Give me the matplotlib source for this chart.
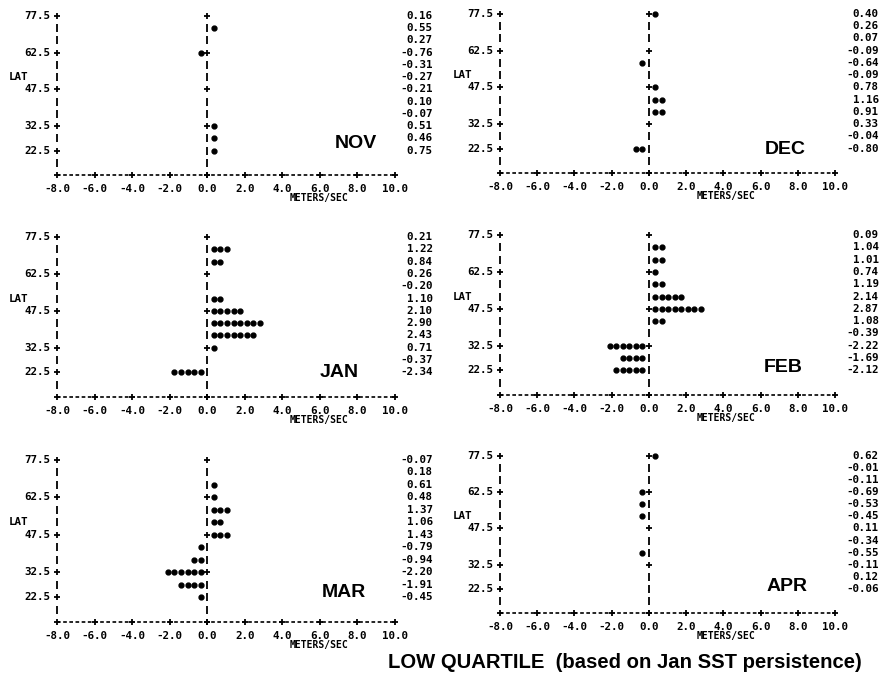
import matplotlib
matplotlib.use("Agg")
import matplotlib.pyplot as plt
import numpy as np

####################### Data #############################
months = ['NOV', 'DEC', 'JAN', 'FEB', 'MAR', 'APR']
lat_rows = [77.5, 72.5, 67.5, 62.5, 57.5, 52.5, 47.5, 42.5, 37.5, 32.5, 27.5, 22.5]
lat_labels = [77.5, 62.5, 47.5, 32.5, 22.5]
x_ticks = [-8.0, -6.0, -4.0, -2.0, 0.0, 2.0, 4.0, 6.0, 8.0, 10.0]

nov_vals = [0.16, 0.55, 0.27, -0.76, -0.31, -0.27, -0.21, 0.10, -0.07, 0.51, 0.46, 0.75]
dec_vals = [0.40, 0.26, 0.07, -0.09, -0.64, -0.09, 0.78, 1.16, 0.91, 0.33, -0.04, -0.80]
jan_vals = [0.21, 1.22, 0.84, 0.26, -0.20, 1.10, 2.10, 2.90, 2.43, 0.71, -0.37, -2.34]
feb_vals = [0.09, 1.04, 1.01, 0.74, 1.19, 2.14, 2.87, 1.08, -0.39, -2.22, -1.69, -2.12]
mar_vals = [-0.07, 0.18, 0.61, 0.48, 1.37, 1.06, 1.43, -0.79, -0.94, -2.20, -1.91, -0.45]
apr_vals = [0.62, -0.01, -0.11, -0.69, -0.53, -0.45, 0.11, -0.34, -0.55, -0.11, 0.12, -0.06]

# printed star counts per row (signed: negative = left of zero)
nov_stars = [0, 1, 0, -1, 0, 0, 0, 0, 0, 1, 1, 1]
dec_stars = [1, 0, 0, 0, -1, 0, 1, 2, 2, 0, 0, -2]
jan_stars = [0, 3, 2, 0, 0, 2, 5, 8, 7, 1, 0, -5]
feb_stars = [0, 2, 2, 1, 2, 5, 8, 2, 0, -6, -4, -5]
mar_stars = [0, 0, 1, 1, 3, 2, 3, -1, -2, -6, -4, -1]
apr_stars = [1, 0, 0, -1, -1, -1, 0, 0, -1, 0, 0, 0]

all_vals = [nov_vals, dec_vals, jan_vals, feb_vals, mar_vals, apr_vals]
all_stars = [nov_stars, dec_stars, jan_stars, feb_stars, mar_stars, apr_stars]

####################### Layout (pixels) #############################
W, H = 883, 683
# x of -8, x of 10, y of 77.5 row, y of axis row
boxes = [(57, 395, 16, 175), (500, 835, 14, 173),
         (57, 395, 237, 397), (500, 835, 235, 395),
         (57, 395, 460, 622), (500, 835, 456, 613)]
label_pos = [(7.9, 25.5), (7.3, 22.0), (7.05, 22.6), (7.2, 23.8), (7.3, 24.5), (7.4, 23.4)]

CHAR = 0.35  # m/s per printer column
MONO = dict(family='DejaVu Sans Mono', weight='bold', fontsize=7.8, color='black')
AX_ROW = 12.5

fig = plt.figure(figsize=(W / 100, H / 100), dpi=100)

for i, (x0, x1, ytop, ybot) in enumerate(boxes):
    ax = fig.add_axes([x0 / W, 1 - ybot / H, (x1 - x0) / W, (ybot - ytop) / H])
    ax.set_xlim(-8, 10)
    ax.set_ylim(AX_ROW, 77.5)
    ax.axis('off')
    right = i % 2 == 1

    # bottom printer axis
    ax.plot([-8, 10], [AX_ROW, AX_ROW], color='black', lw=1.2,
            ls=(0, (2.2, 1.5)), clip_on=False)
    ax.plot(x_ticks, [AX_ROW] * len(x_ticks), '+', color='black', ms=5, mew=1.3,
            clip_on=False)
    for t in x_ticks:
        ax.text(t, AX_ROW - 5.6, f"{t:.1f}", ha='center', va='center', **MONO)
    ax.text(4.15 if right else 5.95, AX_ROW - 9.4, "METERS/SEC", ha='center',
            va='center', **dict(MONO, fontsize=7.0))

    # left printer axis
    rows_all = lat_rows + [17.5]
    plain = [r for r in rows_all if r not in lat_labels]
    ax.plot([-8] * len(plain), plain, '|', color='black', ms=5.5, mew=1.3, clip_on=False)
    ax.plot([-8] * len(lat_labels), lat_labels, '+', color='black', ms=5, mew=1.3,
            clip_on=False)
    for r in lat_labels:
        ax.text(-8.35, r, f"{r:.1f}", ha='right', va='center', **MONO)
    ax.text(-10.55, 52.5, "LAT", ha='left', va='center', **MONO)

    # zero column
    zplus = [77.5, 62.5, 47.5, 32.5]
    zplain = [r for r in rows_all if r not in zplus]
    ax.plot([0] * len(zplain), zplain, '|', color='black', ms=5.5, mew=1.3, clip_on=False)
    ax.plot([0] * (len(zplus) + 1), zplus + [AX_ROW], '+', color='black', ms=5, mew=1.3,
            clip_on=False)

    # stars
    sx, sy = [], []
    for lat, n in zip(lat_rows, all_stars[i]):
        for k in range(1, abs(n) + 1):
            sx.append(np.sign(n) * k * CHAR)
            sy.append(lat)
    ax.plot(sx, sy, 'o', color='black', ms=3.5, clip_on=False)

    # values column
    vx = 12.35 if right else 12.0
    for lat, v in zip(lat_rows, all_vals[i]):
        ax.text(vx, lat, f"{v:.2f}", ha='right', va='center', **MONO)

    # month label
    mx, my = label_pos[i]
    ax.text(mx, my, months[i], ha='center', va='center', family='Liberation Sans',
            weight='bold', fontsize=14, color='black')

fig.text(625 / W, 1 - 662 / H, "LOW QUARTILE  (based on Jan SST persistence)",
         ha='center', va='center', family='Liberation Sans', weight='bold',
         fontsize=14.6, color='black')

fig.savefig("out.png", dpi=100, facecolor='white')
